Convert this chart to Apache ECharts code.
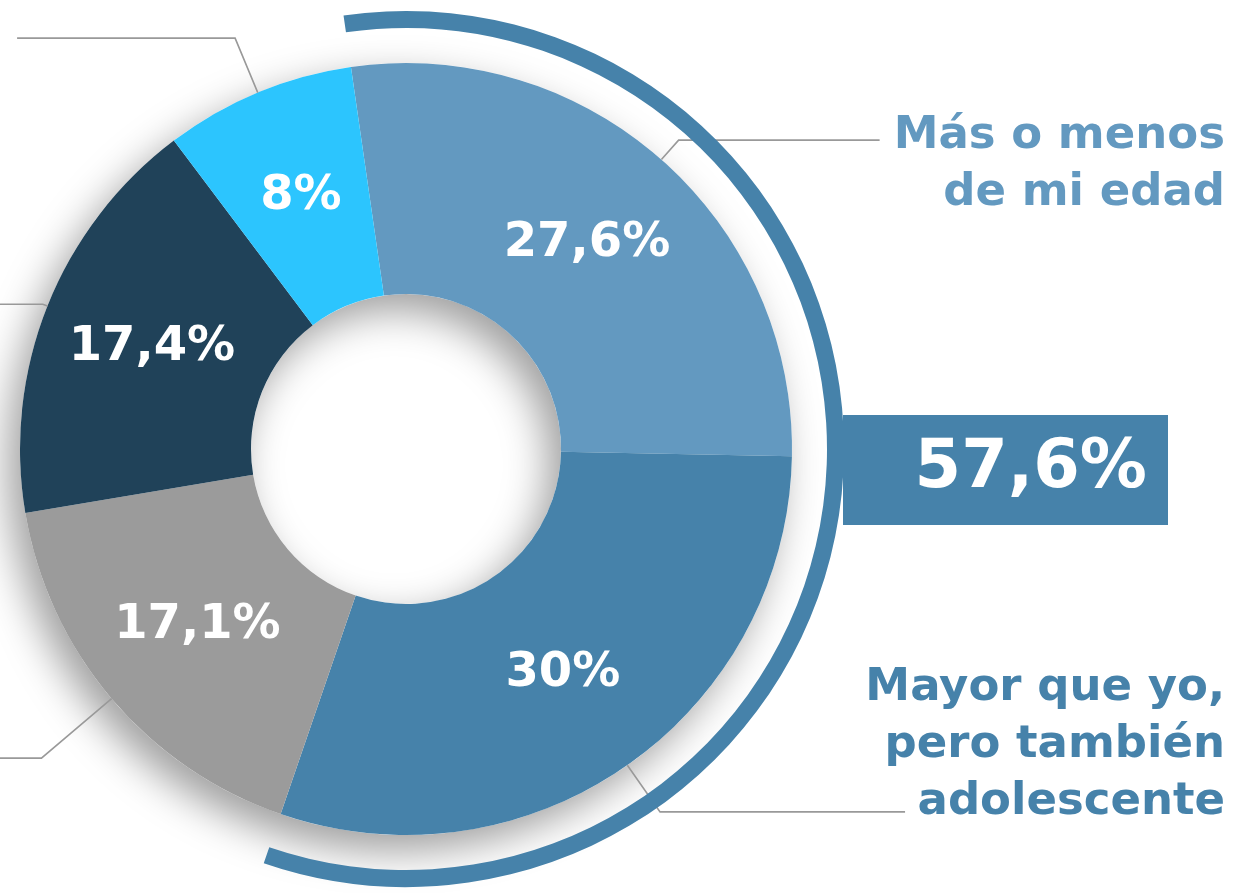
<!DOCTYPE html>
<html>
<head>
<meta charset="utf-8">
<script src="https://cdn.jsdelivr.net/npm/echarts@6/dist/echarts.min.js"></script>
<style>
  html, body { margin: 0; padding: 0; background: #fff; }
  #chart { width: 1233px; height: 893px; }
</style>
</head>
<body>
<div id="chart"></div>
<script>
// datos (sentido horario desde arriba)
const categories = ['Más o menos\nde mi edad', 'Mayor que yo,\npero también\nadolescente', '', '', '']
const values = [27.6, 30, 17.1, 17.4, 8]
// porciones agrupadas por el arco exterior
const groupIndex = [0, 1]

// estilo
const sliceColors = ['#6399C0', '#4682AA', '#9B9B9B', '#204259', '#2CC5FE']
const nameColors = ['#6399C0', '#4682AA', '#999', '#999', '#999']
// [length, length2, edgeDistance, espacio arriba, espacio abajo]
const leader = [
  [26, 201, 8, 50, 0],
  [57, 245, 8, 0, 134],
  [92, 60, 0, 0, 0],
  [5, 70, 0, 0, 0],
  [59, 218, 17, 0, 0]
]

const FONT = '"DejaVu Sans", sans-serif'
const CENTER = [406, 449]
const RING = [155, 386]
const START = 98.2

const total = values.reduce((a, b) => a + b, 0)
const groupValue = groupIndex.reduce((a, i) => a + values[i], 0)
const fmt = v => String(Math.round(v * 10) / 10).replace('.', ',') + '%'

function nameLabel(i) {
  if (!categories[i]) {
    return '\u00a0'
  }
  let s = categories[i]
  if (leader[i][3]) s = '{top|\u00a0}\n' + s
  if (leader[i][4]) s = s + '\n{bot|\u00a0}'
  return s
}

const chart = echarts.init(document.getElementById('chart'), null, {renderer: 'canvas'})

const option = {
  animation: false,
  series: [
    // sombra del anillo
    {
      type: 'pie',
      silent: true,
      z: 1,
      center: CENTER,
      radius: RING,
      label: {show: false},
      labelLine: {show: false},
      itemStyle: {
        color: '#fff',
        shadowBlur: 40,
        shadowOffsetX: -12,
        shadowOffsetY: 16,
        shadowColor: 'rgba(0,0,0,0.38)'
      },
      data: [{value: total}]
    },
    // porciones con porcentaje
    {
      type: 'pie',
      silent: true,
      z: 2,
      center: CENTER,
      radius: RING,
      startAngle: START,
      avoidLabelOverlap: false,
      label: {
        show: true,
        position: 'inside',
        color: '#fff',
        fontFamily: FONT,
        fontWeight: 'bold',
        fontSize: 48,
        formatter: p => fmt(p.value)
      },
      labelLine: {show: false},
      data: values.map((v, i) => ({value: v, itemStyle: {color: sliceColors[i]}}))
    },
    // nombres y líneas guía
    {
      type: 'pie',
      silent: true,
      z: 3,
      center: CENTER,
      radius: RING,
      startAngle: START,
      avoidLabelOverlap: false,
      itemStyle: {color: 'rgba(0,0,0,0)'},
      label: {
        show: true,
        position: 'outside',
        alignTo: 'edge',
        distanceToLabelLine: 0,
        fontFamily: FONT,
        fontWeight: 'bold',
        fontSize: 45,
        lineHeight: 57
      },
      labelLine: {
        show: true,
        lineStyle: {color: '#999', width: 1.6}
      },
      data: values.map((v, i) => ({
        value: v,
        name: categories[i],
        label: {
          formatter: nameLabel(i),
          color: nameColors[i],
          edgeDistance: leader[i][2],
          fontSize: categories[i] ? 45 : 1,
          lineHeight: categories[i] ? 57 : 1,
          rich: {
            top: {fontSize: 10, lineHeight: leader[i][3]},
            bot: {fontSize: 10, lineHeight: leader[i][4]}
          }
        },
        labelLine: {length: leader[i][0], length2: leader[i][1]}
      }))
    },
    // arco exterior + recuadro del total
    {
      type: 'pie',
      silent: true,
      z: 4,
      center: CENTER,
      radius: [421, 438],
      startAngle: START,
      avoidLabelOverlap: false,
      labelLine: {show: false, length: 0, length2: 0},
      labelLayout: {dy: -20},
      data: [
        {
          value: groupValue,
          itemStyle: {color: '#4682AA'},
          label: {
            show: true,
            position: 'outside',
            alignTo: 'edge',
            edgeDistance: 65,
            distanceToLabelLine: 0,
            formatter: fmt(groupValue),
            backgroundColor: '#4682AA',
            color: '#fff',
            fontFamily: FONT,
            fontWeight: 'bold',
            fontSize: 67,
            lineHeight: 78,
            width: 283,
            align: 'right',
            padding: [16, 21, 16, 21]
          }
        },
        {
          value: total - groupValue,
          itemStyle: {color: 'rgba(0,0,0,0)'},
          label: {show: false}
        }
      ]
    }
  ]
}

chart.setOption(option)
</script>
</body>
</html>
